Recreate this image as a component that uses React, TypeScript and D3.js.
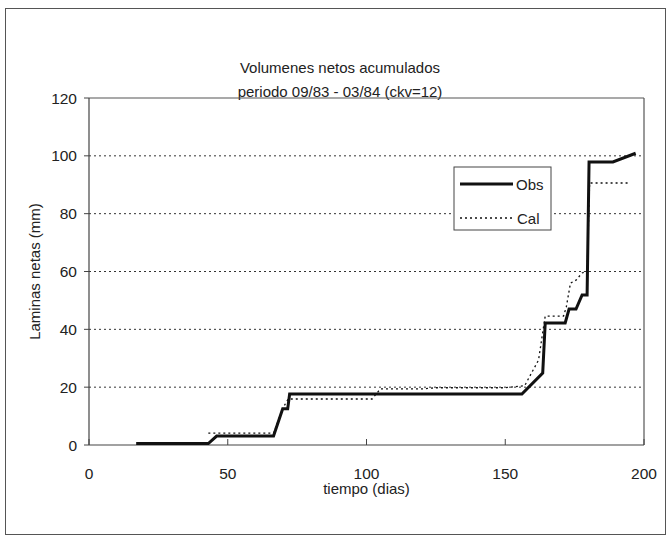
import React from "react";
import * as d3 from "d3";

const titleLines = ["Volumenes netos acumulados", "periodo 09/83 - 03/84 (ckv=12)"];
const xTicks = [0, 50, 100, 150, 200];
const yTicks = [0, 20, 40, 60, 80, 100, 120];
const gridValues = [20, 40, 60, 80, 100];

const obsDays = [17, 43, 46, 66.5, 69.8, 71.6, 72.3, 156, 163.5, 164.4, 171.6, 173, 175.5, 177.7, 179.5, 180.2, 188.8, 197];
const obsVals = [0.5, 0.5, 3.1, 3.1, 12.5, 12.5, 17.6, 17.6, 24.9, 42.2, 42.2, 47, 47, 51.9, 51.9, 97.9, 97.9, 100.9];

const calDays = [43, 66.5, 70, 71.8, 102, 105, 120, 125, 150, 157, 162, 164.4, 171, 172, 173.5, 175.5, 177.7, 179.5, 180.4, 194.6];
const calVals = [4.1, 4.1, 13, 15.9, 15.9, 19.4, 19.4, 19.8, 19.8, 20.5, 29.4, 44.6, 44.6, 47.7, 56, 57, 59.5, 60, 90.6, 90.6];

const W = 671, H = 538;
const left = 89, right = 644, top = 98, bottom = 445;

export default function App() {
  const x = d3.scaleLinear().domain([0, 200]).range([left, right]);
  const y = d3.scaleLinear().domain([0, 120]).range([bottom, top]);
  const line = d3.line<[number, number]>().x(d => x(d[0])).y(d => y(d[1]));
  const obs = obsDays.map((d, i) => [d, obsVals[i]] as [number, number]);
  const cal = calDays.map((d, i) => [d, calVals[i]] as [number, number]);
  const font = "'Liberation Sans', Arial, sans-serif";
  return (
    <svg width={W} height={H} style={{ position: "absolute", left: 0, top: 0 }} fontFamily={font}>
      <rect x={0} y={0} width={W} height={H} fill="#fff" />
      <rect x={5.5} y={8.5} width={660} height={526} fill="none" stroke="#555" strokeWidth={1} />
      {titleLines.map((t, i) => (
        <text key={i} x={340} y={73 + i * 24} textAnchor="middle" fontSize={15} fill="#222">{t}</text>
      ))}
      {gridValues.map(v => (
        <line key={v} x1={left} x2={right} y1={y(v)} y2={y(v)} stroke="#333" strokeWidth={1} strokeDasharray="2,3" />
      ))}
      <line x1={left} x2={right} y1={top} y2={top} stroke="#555" strokeWidth={1.2} />
      <line x1={right} x2={right} y1={top} y2={bottom} stroke="#555" strokeWidth={1.2} />
      <line x1={left} x2={left} y1={top} y2={bottom} stroke="#444" strokeWidth={1.2} />
      <line x1={left} x2={right} y1={bottom} y2={bottom} stroke="#444" strokeWidth={1.2} />
      {yTicks.map(v => (
        <g key={v}>
          <line x1={left - 5} x2={left} y1={y(v)} y2={y(v)} stroke="#444" />
          <text x={left - 12} y={y(v) + 5.5} textAnchor="end" fontSize={15.5} fill="#222">{v}</text>
        </g>
      ))}
      {xTicks.map(v => (
        <g key={v}>
          <line x1={x(v)} x2={x(v)} y1={bottom} y2={bottom - 6} stroke="#444" />
          <text x={x(v)} y={479} textAnchor="middle" fontSize={15.5} fill="#222">{v}</text>
        </g>
      ))}
      <text x={x(100)} y={494} textAnchor="middle" fontSize={15} fill="#222">tiempo (dias)</text>
      <text transform={`translate(40,${(top + bottom) / 2 + 0}) rotate(-90)`} textAnchor="middle" fontSize={15} fill="#222">Laminas netas (mm)</text>
      <path d={line(cal) || ""} fill="none" stroke="#111" strokeWidth={1.3} strokeDasharray="2,3" />
      <path d={line(obs) || ""} fill="none" stroke="#111" strokeWidth={3} strokeLinejoin="miter" />
      <rect x={454} y={167} width={97} height={63} fill="#fff" stroke="#444" strokeWidth={1} />
      <line x1={460} x2={513} y1={184} y2={184} stroke="#111" strokeWidth={3} />
      <text x={516} y={190} fontSize={15} fill="#222">Obs</text>
      <line x1={460} x2={513} y1={218} y2={218} stroke="#111" strokeWidth={1.3} strokeDasharray="2,3" />
      <text x={517} y={224} fontSize={15} fill="#222">Cal</text>
    </svg>
  );
}
